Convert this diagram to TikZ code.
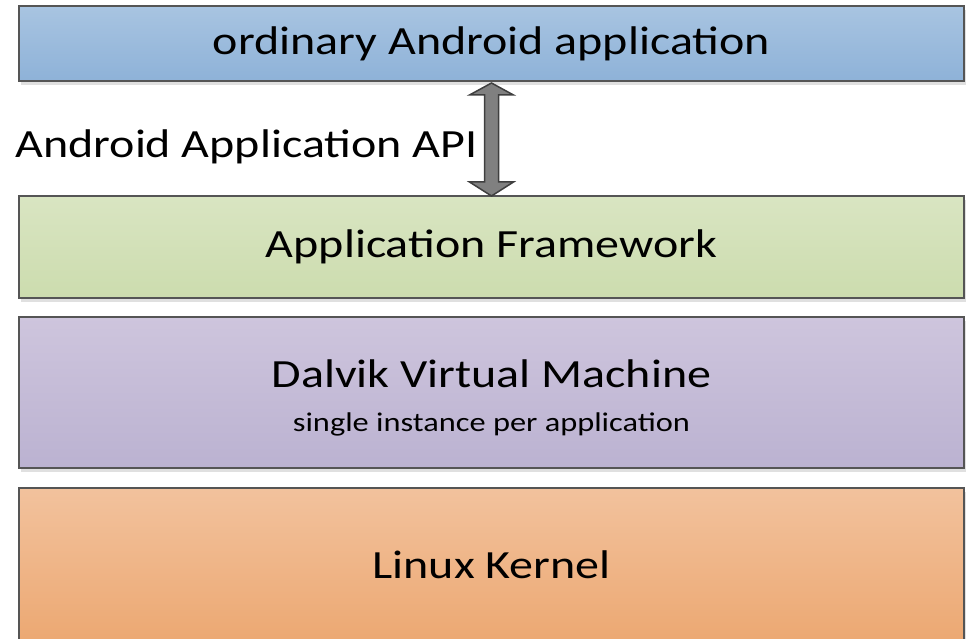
\documentclass[tikz,border=0pt]{standalone}
\usepackage{fontspec}
\setmainfont[FakeStretch=1.2]{Carlito}
\usetikzlibrary{calc,shadows}

\begin{document}
\begin{tikzpicture}[x=1pt,y=1pt,line join=miter,
  layer/.style={draw=edge,line width=2pt,minimum width=945pt,inner sep=0pt,
    font=\fontsize{40}{46}\selectfont,text=black,
    drop shadow={shadow xshift=2pt,shadow yshift=-4pt,fill=black,opacity=0.12}},
  note/.style={font=\fontsize{40}{46}\selectfont,text=black}]
  \definecolor{edge}{HTML}{555555}
  \definecolor{apptop}{HTML}{A8C4E1}
  \definecolor{appbot}{HTML}{8EB2D8}
  \definecolor{fwtop}{HTML}{D9E5C2}
  \definecolor{fwbot}{HTML}{CCDCAE}
  \definecolor{dvmtop}{HTML}{CEC5DD}
  \definecolor{dvmbot}{HTML}{BBB2D1}
  \definecolor{kertop}{HTML}{F2C29D}
  \definecolor{kerbot}{HTML}{ECA872}
  \definecolor{arrfill}{HTML}{808080}
  \definecolor{arredge}{HTML}{3F3F3F}

  \useasboundingbox (0,0) rectangle (972,638);

  % layers, top to bottom
  \node[layer,minimum height=75pt,top color=apptop,bottom color=appbot]
    (app) at (491.5,594.5) {ordinary Android application};
  \node[layer,minimum height=102pt,top color=fwtop,bottom color=fwbot]
    (fw) at (491.5,391) {Application Framework};
  \node[layer,minimum height=151pt,top color=dvmtop,bottom color=dvmbot,align=center]
    (dvm) at (491.5,245.5) {\\[-8pt]Dalvik Virtual Machine\\[-2pt]
    {\fontsize{27}{32}\selectfont single instance per application}};
  \node[layer,minimum height=154pt,top color=kertop,bottom color=kerbot]
    (ker) at (491.5,73) {Linux Kernel};

  % API label and double arrow between app and framework
  \node[note,anchor=base west] (api) at (12,480) {Android Application API};
  \filldraw[fill=arrfill,draw=arredge,line width=1.5pt]
    ($(app.south)+(0,-1)$) -- ++(-22,-12) -- ++(15,0)
    -- ($(fw.north)+(-7,13)$) -- ++(-15,0) -- ($(fw.north)+(0,-1)$)
    -- ++(22,14) -- ++(-15,0) -- ($(app.south)+(7,-13)$) -- ++(15,0) -- cycle;
\end{tikzpicture}
\end{document}
